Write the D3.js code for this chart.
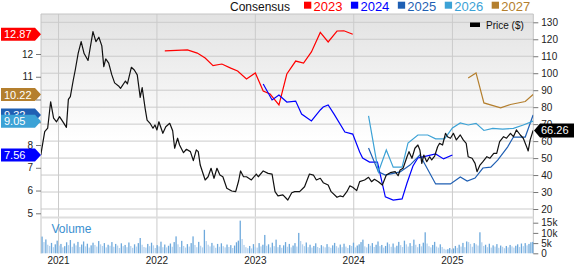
<!DOCTYPE html>
<html>
<head>
<meta charset="utf-8">
<script src="https://cdn.jsdelivr.net/npm/d3@7"></script>
<style>
  body { margin: 0; background: #fff; }
  svg { display: block; font-family: "Liberation Sans", Arial, sans-serif; }
</style>
</head>
<body>
<div id="chart"></div>
<script>
// axis ticks
var yearTicks = [2021, 2022, 2023, 2024, 2025];
var priceTicks = [20, 30, 40, 50, 60, 70, 80, 90, 100, 110, 120, 130];
var epsTicks = [5, 6, 7, 8, 9, 10, 11, 12];
var volumeTicks = [0, 5, 10, 15];
var volumeTickLabels = ["0", "5k", "10k", "15k"];

var consensusYears = ["2023", "2024", "2025", "2026", "2027"];
var consensusColors = ["#ff0000", "#0000ff", "#1f5fb3", "#3ca2d6", "#b47f2e"];

// [decimal year, price $]
var price = [
  [2020.82, 51.8], [2020.86, 65.6], [2020.89, 67.6], [2020.92, 83.2], [2020.95, 73.6], [2020.98, 71.4],
  [2021.01, 74.4], [2021.05, 70.9], [2021.08, 68.1], [2021.10, 84.6], [2021.12, 86.2], [2021.15, 96.0],
  [2021.17, 101.9], [2021.20, 111.8], [2021.23, 118.6], [2021.26, 111.6], [2021.30, 107.5], [2021.35, 124.5],
  [2021.38, 118.6], [2021.41, 121.2], [2021.44, 116.1], [2021.46, 103.9], [2021.48, 108.4], [2021.51, 105.9],
  [2021.54, 99.3], [2021.57, 94.3], [2021.61, 92.5], [2021.63, 91.1], [2021.68, 95.4], [2021.70, 93.7],
  [2021.74, 103.5], [2021.77, 101.9], [2021.80, 99.0], [2021.83, 85.8], [2021.85, 91.5], [2021.88, 79.3],
  [2021.90, 72.4], [2021.93, 70.5], [2021.96, 67.6], [2021.98, 69.5], [2022.00, 66.6], [2022.02, 71.4],
  [2022.06, 64.6], [2022.09, 68.5], [2022.13, 70.5], [2022.16, 66.1], [2022.18, 55.8], [2022.21, 61.7],
  [2022.23, 57.7], [2022.27, 53.2], [2022.30, 55.2], [2022.34, 53.8], [2022.37, 48.5], [2022.40, 54.8],
  [2022.42, 53.8], [2022.44, 45.9], [2022.49, 37.1], [2022.52, 39.0], [2022.55, 44.0], [2022.58, 38.1],
  [2022.61, 44.0], [2022.64, 40.0], [2022.67, 39.0], [2022.71, 32.2], [2022.76, 30.6], [2022.80, 30.2],
  [2022.83, 36.5], [2022.85, 42.4], [2022.88, 39.0], [2022.91, 39.0], [2022.96, 37.1], [2023.01, 40.6],
  [2023.03, 39.0], [2023.08, 42.4], [2023.13, 41.0], [2023.17, 40.6], [2023.20, 30.2], [2023.23, 27.7],
  [2023.28, 28.3], [2023.33, 25.3], [2023.37, 29.6], [2023.40, 30.2], [2023.45, 30.2], [2023.50, 33.1],
  [2023.55, 40.6], [2023.59, 40.0], [2023.62, 37.1], [2023.66, 38.1], [2023.69, 35.5], [2023.74, 34.1],
  [2023.77, 30.2], [2023.83, 26.9], [2023.86, 27.7], [2023.89, 27.2], [2023.93, 30.2], [2023.96, 33.6],
  [2023.99, 32.8], [2024.03, 30.8], [2024.06, 36.1], [2024.11, 37.1], [2024.15, 38.7], [2024.18, 36.1],
  [2024.21, 37.5], [2024.25, 36.1], [2024.29, 34.1], [2024.33, 40.0], [2024.37, 41.4], [2024.42, 42.0],
  [2024.45, 39.6], [2024.47, 43.0], [2024.50, 44.0], [2024.54, 50.8], [2024.56, 53.8], [2024.59, 49.9],
  [2024.62, 55.8], [2024.65, 57.7], [2024.67, 54.8], [2024.69, 46.9], [2024.71, 51.8], [2024.74, 47.9],
  [2024.77, 50.8], [2024.79, 48.9], [2024.82, 51.2], [2024.85, 56.7], [2024.87, 58.7], [2024.90, 57.7],
  [2024.93, 64.6], [2024.95, 62.6], [2024.98, 61.7], [2025.01, 64.6], [2025.04, 60.7], [2025.08, 63.6],
  [2025.11, 60.7], [2025.14, 58.7], [2025.16, 50.8], [2025.20, 49.9], [2025.23, 46.9], [2025.25, 42.0],
  [2025.28, 45.9], [2025.31, 47.9], [2025.35, 50.8], [2025.38, 49.9], [2025.42, 52.8], [2025.45, 52.8],
  [2025.48, 59.7], [2025.52, 62.6], [2025.55, 61.7], [2025.59, 64.6], [2025.62, 62.6], [2025.65, 66.6],
  [2025.69, 63.6], [2025.72, 61.7], [2025.76, 55.8], [2025.77, 54.2], [2025.79, 60.7], [2025.82, 66.26]
];

// consensus EPS by fiscal year, [decimal year, eps]
var eps2023 = [
  [2022.08, 12.14], [2022.31, 12.18], [2022.41, 12.04], [2022.49, 11.82], [2022.57, 11.49], [2022.66, 11.56],
  [2022.75, 11.38], [2022.82, 11.25], [2022.91, 10.90], [2023.00, 11.17], [2023.08, 10.37], [2023.15, 10.24],
  [2023.24, 9.76], [2023.32, 11.12], [2023.41, 11.69], [2023.49, 11.60], [2023.57, 12.09], [2023.66, 12.95],
  [2023.74, 12.53], [2023.83, 13.01], [2023.90, 13.02], [2023.99, 12.87]
];
var eps2024 = [
  [2023.08, 10.68], [2023.17, 9.98], [2023.24, 10.20], [2023.32, 9.89], [2023.41, 9.93], [2023.47, 9.36],
  [2023.57, 9.06], [2023.66, 9.54], [2023.69, 9.67], [2023.74, 9.76], [2023.80, 9.36], [2023.91, 8.57],
  [2023.99, 8.48], [2024.06, 7.69], [2024.09, 7.43], [2024.16, 7.25], [2024.24, 7.25], [2024.27, 6.68],
  [2024.32, 5.72], [2024.40, 5.58], [2024.49, 5.63], [2024.54, 6.33], [2024.60, 7.08], [2024.65, 7.43],
  [2024.69, 7.47], [2024.83, 7.61], [2024.91, 7.39], [2025.00, 7.56]
];
var eps2025 = [
  [2024.15, 7.87], [2024.25, 6.82], [2024.32, 6.68], [2024.47, 6.82], [2024.57, 7.12], [2024.67, 7.56],
  [2024.83, 6.29], [2024.98, 6.29], [2025.08, 6.60], [2025.15, 6.42], [2025.23, 6.55], [2025.31, 6.99],
  [2025.39, 7.03], [2025.46, 7.34], [2025.56, 7.91], [2025.62, 8.35], [2025.74, 8.35], [2025.82, 9.32]
];
var eps2026 = [
  [2024.15, 9.28], [2024.25, 6.82], [2024.33, 7.78], [2024.40, 7.03], [2024.49, 7.03], [2024.55, 8.09],
  [2024.65, 8.44], [2024.75, 8.44], [2024.83, 8.27], [2024.92, 8.27], [2025.00, 8.75], [2025.08, 8.97],
  [2025.16, 8.88], [2025.24, 8.95], [2025.32, 8.64], [2025.41, 8.73], [2025.51, 8.70], [2025.62, 8.73],
  [2025.72, 8.88], [2025.82, 9.05]
];
var eps2027 = [
  [2025.16, 10.95], [2025.24, 11.17], [2025.32, 9.85], [2025.49, 9.63], [2025.59, 9.78], [2025.74, 9.91],
  [2025.82, 10.22]
];

// weekly volume, thousands of shares, from the week of 2020-11-01
var volume = [
  8.2, 5.5, 6.8, 4.2, 3.6, 5.1, 3.0, 4.4, 6.2, 3.8, 4.6, 2.9, 3.5, 5.4, 4.0, 6.5, 3.2, 4.8, 3.9, 5.6,
  3.1, 4.3, 5.8, 3.4, 4.7, 2.8, 3.9, 5.2, 4.1, 3.3, 6.0, 4.4, 3.6, 5.0, 2.9, 4.2, 3.7, 5.5, 3.2, 4.6,
  3.8, 2.6, 4.9, 3.5, 4.1, 3.0, 5.3, 3.6, 2.7, 4.4, 3.3, 5.0, 7.5, 4.2, 3.1, 2.8, 4.6, 3.5, 5.2, 3.9,
  2.6, 4.0, 3.4, 5.7, 3.0, 4.3, 2.9, 3.7, 4.8, 3.2, 5.5, 8.3, 4.4, 3.1, 6.1, 3.6, 2.8, 4.5, 3.3, 5.0,
  8.3, 4.1, 3.0, 5.6, 3.7, 2.9, 11.5, 6.0, 4.2, 3.4, 5.1, 3.8, 2.7, 4.6, 3.2, 4.9, 3.5, 2.9, 4.3, 3.1,
  4.0, 2.6, 3.8, 5.4, 6.2, 16.0, 7.0, 4.1, 3.0, 2.5, 3.6, 2.4, 4.5, 3.2, 2.8, 5.0, 3.4, 4.2, 9.0, 3.7,
  4.4, 2.9, 5.2, 3.5, 6.7, 3.0, 4.1, 2.7, 3.9, 5.5, 3.2, 4.6, 2.9, 3.8, 5.0, 3.3, 10.0, 6.0, 4.4, 3.5,
  5.3, 3.0, 4.2, 2.8, 3.6, 4.9, 3.1, 2.6, 4.0, 3.4, 2.9, 4.5, 3.2, 2.7, 3.9, 5.1, 3.5, 2.8, 4.3, 3.0,
  4.7, 3.3, 2.6, 4.0, 3.6, 5.2, 2.9, 3.8, 4.4, 5.5, 6.7, 3.4, 2.9, 4.6, 3.7, 5.0, 3.1, 4.2, 5.8, 3.5,
  4.1, 2.8, 3.6, 5.3, 4.5, 3.2, 4.8, 2.9, 3.7, 5.6, 4.0, 3.1, 6.2, 4.4, 3.3, 5.0, 3.6, 6.7, 4.2, 3.0,
  4.6, 3.4, 5.2, 10.3, 4.8, 3.5, 2.9, 4.1, 5.6, 3.3, 2.8, 4.4, 3.1, 2.2, 1.8, 2.0, 2.6, 1.9, 2.4, 3.6,
  2.7, 4.2, 3.3, 5.1, 3.0, 5.8, 5.5, 4.6, 3.2, 5.0, 4.4, 3.8, 10.3, 5.4, 3.6, 4.2, 3.0, 4.7, 2.8, 3.9,
  3.3, 4.5, 2.7, 3.8, 3.2, 2.5, 3.6, 2.9, 4.1, 3.4, 2.8, 3.7, 4.4, 3.1, 4.8, 3.5, 5.0, 3.9, 4.6, 5.4,
  5.6
];

var consensusSeries = [eps2023, eps2024, eps2025, eps2026, eps2027];

var width = 574, height = 264;
var plotLeft = 41, plotRight = 533.3, plotTop = 14, priceBottom = 216.5;
var volTop = 218.5, volBottom = 253.5;

function ydate(y) {
  var yr = Math.floor(y);
  var s = new Date(yr, 0, 1).getTime(), e = new Date(yr + 1, 0, 1).getTime();
  return new Date(s + (y - yr) * (e - s));
}

var x = d3.scaleTime()
    .domain([new Date(2020, 9, 28), new Date(2025, 9, 28)])
    .range([plotLeft, plotRight]);
var yPrice = d3.scaleLinear().domain([20, 130]).range([209, 22.3]);
var yEps = d3.scaleLinear().domain([5, 12]).range([213.3, 54]);
var yVol = d3.scaleLinear().domain([0, 15]).range([253.3, 222.7]);

var svg = d3.select("#chart")
    .append("svg")
    .attr("width", width)
    .attr("height", height);

var defs = svg.append("defs");
var grad = defs.append("linearGradient")
    .attr("id", "bg")
    .attr("x1", 0).attr("y1", 0).attr("x2", 0).attr("y2", 1);
grad.append("stop").attr("offset", "0%").attr("stop-color", "#e2e2e2");
grad.append("stop").attr("offset", "62%").attr("stop-color", "#ffffff");

defs.append("clipPath").attr("id", "clip")
    .append("rect")
    .attr("x", plotLeft).attr("y", plotTop)
    .attr("width", plotRight - plotLeft).attr("height", priceBottom - plotTop);

svg.append("rect")
    .attr("x", plotLeft).attr("y", plotTop)
    .attr("width", plotRight - plotLeft).attr("height", priceBottom - plotTop)
    .attr("fill", "url(#bg)");

// horizontal grid from the price axis
svg.append("g")
    .selectAll("line")
    .data(priceTicks)
    .join("line")
    .attr("x1", plotLeft).attr("x2", plotRight)
    .attr("y1", function(d) { return yPrice(d); })
    .attr("y2", function(d) { return yPrice(d); })
    .attr("stroke", "#cbcbcb");

// year grid, through both panels
svg.append("g")
    .selectAll("line")
    .data(yearTicks)
    .join("line")
    .attr("x1", function(d) { return x(new Date(d, 0, 1)); })
    .attr("x2", function(d) { return x(new Date(d, 0, 1)); })
    .attr("y1", plotTop).attr("y2", volBottom)
    .attr("stroke", "#cbcbcb");

// frame
svg.append("path")
    .attr("d", "M" + plotLeft + "," + volBottom + "V" + plotTop + "H" + plotRight + "V" + volBottom)
    .attr("fill", "none")
    .attr("stroke", "#c4c4c4");

svg.append("rect")
    .attr("x", plotLeft).attr("y", priceBottom)
    .attr("width", plotRight - plotLeft).attr("height", volTop - priceBottom)
    .attr("fill", "#dedede");

// volume bars
var firstWeek = d3.timeWeek.ceil(new Date(2020, 9, 29));
svg.append("g")
    .selectAll("rect")
    .data(volume)
    .join("rect")
    .attr("x", function(d, i) { return x(d3.timeWeek.offset(firstWeek, i)) - 0.65; })
    .attr("y", function(d) { return yVol(d); })
    .attr("width", 1.3)
    .attr("height", function(d) { return yVol(0) - yVol(d); })
    .attr("fill", function(d, i) { return i > 0 && d < volume[i - 1] ? "#b3d1ee" : "#6ea9dc"; });

svg.append("text")
    .attr("x", 51.5).attr("y", 233)
    .attr("font-size", 12)
    .attr("fill", "#3a8fd0")
    .text("Volume");

// consensus lines
var epsLine = d3.line()
    .x(function(d) { return x(ydate(d[0])); })
    .y(function(d) { return yEps(d[1]); });

var lines = svg.append("g").attr("clip-path", "url(#clip)");
consensusSeries.forEach(function(s, i) {
  lines.append("path")
      .attr("d", epsLine(s))
      .attr("fill", "none")
      .attr("stroke", consensusColors[i])
      .attr("stroke-width", 1.2);
});

var priceLine = d3.line()
    .x(function(d) { return x(ydate(d[0])); })
    .y(function(d) { return yPrice(d[1]); });

lines.append("path")
    .attr("d", priceLine(price))
    .attr("fill", "none")
    .attr("stroke", "#111")
    .attr("stroke-width", 1.2)
    .attr("stroke-linejoin", "round");

// axes
function styleAxis(g) {
  g.select(".domain").remove();
  g.selectAll(".tick line").attr("stroke", "#777");
  g.selectAll(".tick text").attr("fill", "#222").attr("font-size", 10)
      .attr("font-family", "Liberation Sans, Arial, sans-serif");
}

svg.append("g")
    .attr("transform", "translate(" + plotRight + ",0)")
    .call(d3.axisRight(yPrice).tickValues(priceTicks).tickSize(5).tickPadding(3))
    .call(styleAxis);

svg.append("g")
    .attr("transform", "translate(" + plotRight + ",0)")
    .call(d3.axisRight(yVol).tickValues(volumeTicks).tickSize(5).tickPadding(3)
        .tickFormat(function(d, i) { return volumeTickLabels[i]; }))
    .call(styleAxis);

var flagY = consensusSeries.map(function(s) { return yEps(s[s.length - 1][1]); });

svg.append("g")
    .attr("transform", "translate(" + plotLeft + ",0)")
    .call(d3.axisLeft(yEps).tickValues(epsTicks).tickSize(5).tickPadding(3)
        .tickFormat(d3.format("d")))
    .call(styleAxis)
    .selectAll(".tick text")
    .attr("display", function(d) {
      // labels that sit under a value flag are not shown
      var hit = flagY.some(function(fy) { return Math.abs(fy - yEps(d)) < 10; });
      return hit ? "none" : null;
    });

svg.append("g")
    .selectAll("text")
    .data(yearTicks)
    .join("text")
    .attr("x", function(d) { return x(new Date(d, 0, 1)); })
    .attr("y", 263.5)
    .attr("text-anchor", "middle")
    .attr("font-size", 10)
    .attr("fill", "#222")
    .text(function(d) { return d; });

// value flags
var fmt = d3.format(".2f");
var flagOrder = [0, 4, 2, 3, 1];
flagOrder.forEach(function(i) {
  var last = consensusSeries[i][consensusSeries[i].length - 1][1];
  var yc = flagY[i];
  var g = svg.append("g");
  g.append("path")
      .attr("d", "M1," + (yc - 6.5) + "H35L41," + yc + "L35," + (yc + 6.5) + "H1Z")
      .attr("fill", consensusColors[i]);
  g.append("text")
      .attr("x", 4).attr("y", yc + 4)
      .attr("font-size", 11)
      .attr("fill", "#fff")
      .text(fmt(last));
});

var lastPrice = price[price.length - 1][1];
var py = yPrice(lastPrice);
svg.append("path")
    .attr("d", "M" + (plotRight + 0.7) + "," + py + "L540," + (py - 7) + "H574V" + (py + 7) + "H540Z")
    .attr("fill", "#000");
svg.append("text")
    .attr("x", 541).attr("y", py + 4)
    .attr("font-size", 11)
    .attr("fill", "#fff")
    .text(fmt(lastPrice));

// price key inside the plot
svg.append("rect")
    .attr("x", 470).attr("y", 22.5)
    .attr("width", 10).attr("height", 4.5)
    .attr("fill", "#000");
svg.append("text")
    .attr("x", 486).attr("y", 29)
    .attr("font-size", 10)
    .attr("fill", "#111")
    .text("Price ($)");

// consensus legend
var legend = svg.append("g");
legend.append("text")
    .attr("x", 230).attr("y", 10.5)
    .attr("font-size", 12)
    .attr("fill", "#111")
    .text("Consensus");

var lx = 304;
consensusYears.forEach(function(label, i) {
  legend.append("rect")
      .attr("x", lx).attr("y", 1.7)
      .attr("width", 7.3).attr("height", 7)
      .attr("fill", consensusColors[i]);
  var t = legend.append("text")
      .attr("x", lx + 9.5).attr("y", 10.5)
      .attr("font-size", 13)
      .attr("fill", consensusColors[i])
      .text(label);
  lx += 9.5 + t.node().getComputedTextLength() + 8.5;
});
</script>
</body>
</html>
